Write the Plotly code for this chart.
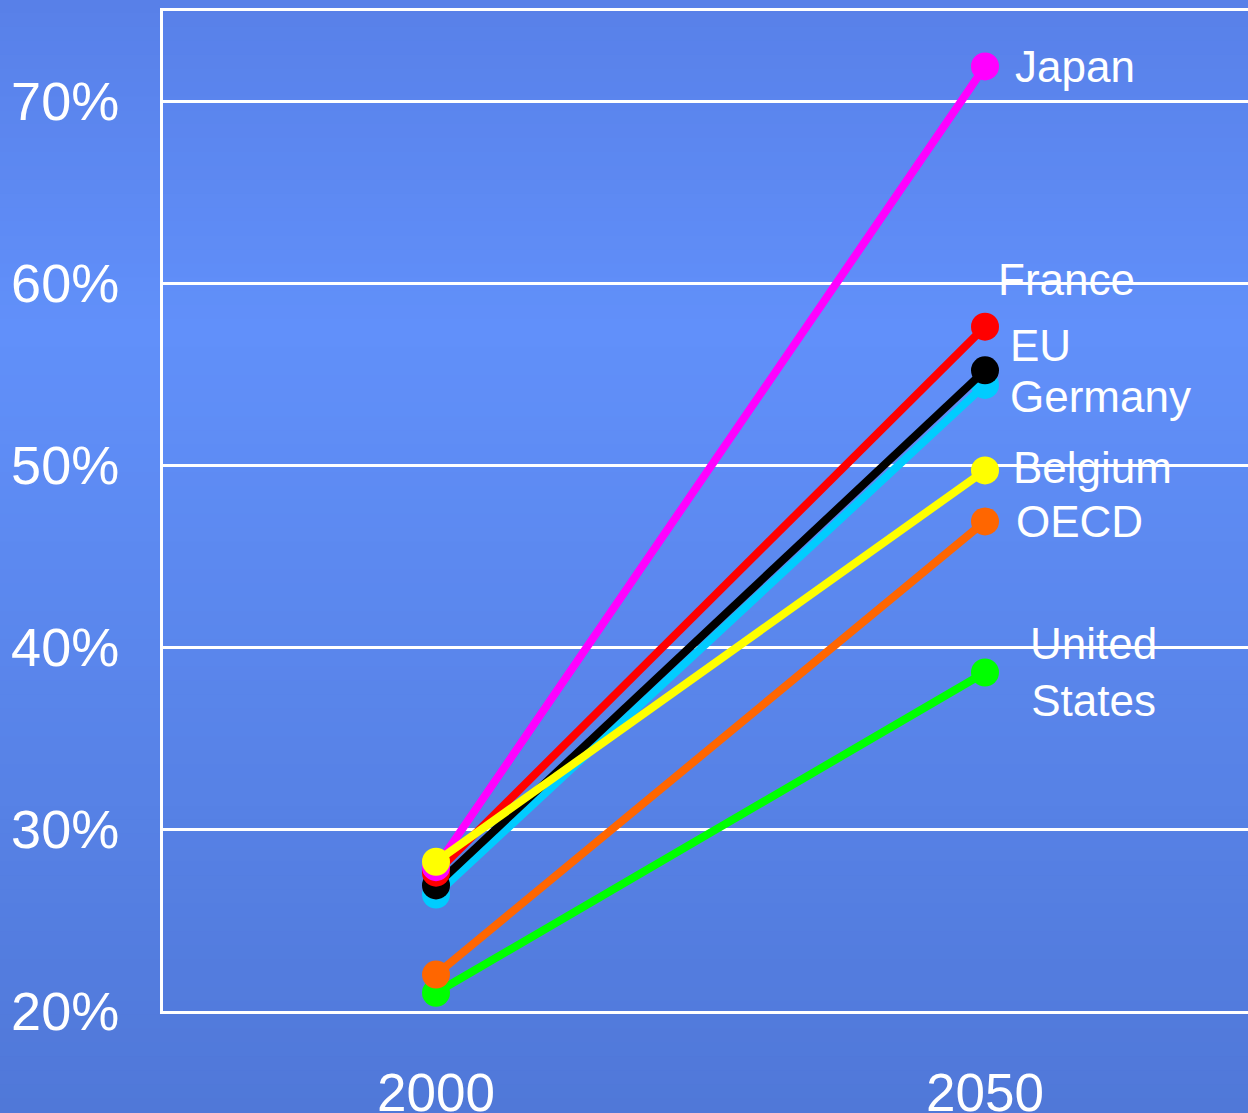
import plotly.graph_objects as go

years = ["2000", "2050"]
countries = ["United States", "OECD", "Germany", "EU", "France", "Japan", "Belgium"]
values_2000 = [21.0, 22.0, 26.4, 26.9, 27.6, 27.9, 28.2]
values_2050 = [38.6, 46.9, 54.4, 55.2, 57.6, 71.9, 49.7]
colors = ["#00ff00", "#ff6600", "#00ccff", "#000000", "#ff0000", "#ff00ff", "#ffff00"]
label_text = ["United<br>States", "OECD", "Germany", "EU", "France", "Japan", "Belgium"]
label_y = [38.63, 46.87, 53.74, 56.59, 60.22, 71.87, 49.89]
label_xshift = [108, 29, 23, 23, 11, 28, 26]
label_anchor = ["center", "left", "left", "left", "left", "left", "left"]
y_ticks = [20, 30, 40, 50, 60, 70]

W, H = 1248, 1113
ML, MR, MT, MB = 163, 0, 11, 102
FONT = "Liberation Sans, Arial, sans-serif"

fig = go.Figure()
x_pos = [0, 1]
for name, a, b, c in zip(countries, values_2000, values_2050, colors):
    fig.add_trace(go.Scatter(
        x=x_pos, y=[a, b], mode="lines+markers", name=name,
        line=dict(color=c, width=8),
        marker=dict(color=c, size=28),
        showlegend=False, hoverinfo="skip", cliponaxis=False))

for t, yv, xs, anc in zip(label_text, label_y, label_xshift, label_anchor):
    fig.add_annotation(x=1, y=yv, xref="x", yref="y", text=t, showarrow=False,
                       xanchor=anc, yanchor="middle", xshift=xs,
                       font=dict(family=FONT, size=44, color="white"),
                       align="center")

# background gradient
def lerp(c1, c2, t):
    return tuple(int(round(c1[i] + (c2[i] - c1[i]) * t)) for i in range(3))

top = (0x58, 0x80, 0xe8)
mid = (0x61, 0x90, 0xfa)
bot = (0x50, 0x78, 0xd8)
peak = 330
pw = W - ML - MR
ph = H - MT - MB
shapes = []
n = 80
for i in range(n):
    p0 = H * i / n
    p1 = H * (i + 1) / n
    pc = (p0 + p1) / 2
    if pc < peak:
        col = lerp(top, mid, pc / peak)
    else:
        col = lerp(mid, bot, (pc - peak) / (H - peak))
    y0 = 1 - (p1 - MT) / ph
    y1 = 1 - (p0 - MT) / ph
    shapes.append(dict(type="rect", xref="paper", yref="paper",
                       x0=-ML / pw - 0.01, x1=1.01, y0=y0 - 0.001, y1=y1 + 0.001,
                       fillcolor="rgb(%d,%d,%d)" % col, line=dict(width=0),
                       layer="below"))

ymin = 20
ymax = 20 + 1000 / 18.2
fig.update_layout(
    width=W, height=H,
    margin=dict(l=ML, r=MR, t=MT, b=MB, autoexpand=False),
    paper_bgcolor="rgba(0,0,0,0)",
    plot_bgcolor="rgba(0,0,0,0)",
    shapes=shapes,
    font=dict(family=FONT, color="white"),
    xaxis=dict(range=[-273 / 549, 1085 / 549 - 273 / 549], tickvals=x_pos, ticktext=years,
               showgrid=False, zeroline=False, showline=True, linecolor="white",
               linewidth=3, mirror=True, tickfont=dict(size=53, color="white"),
               ticks="", ticklabelstandoff=33, automargin=False),
    yaxis=dict(range=[ymin, ymax], tickvals=y_ticks,
               ticktext=[f"{v}%" for v in y_ticks],
               showgrid=True, gridcolor="white", gridwidth=3,
               zeroline=False, showline=True, linecolor="white", linewidth=3,
               tickfont=dict(size=54, color="white"), ticks="",
               ticklabelstandoff=30, automargin=False),
)

fig.write_html("out.html")
